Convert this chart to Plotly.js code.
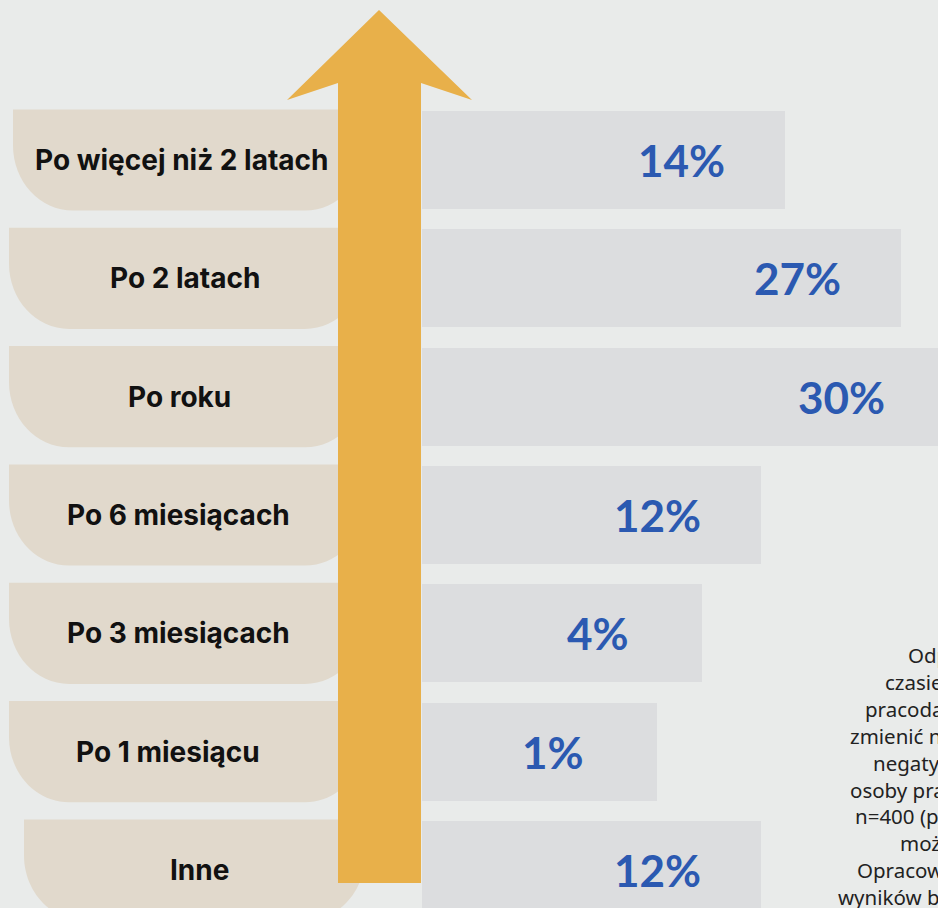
<!DOCTYPE html>
<html>
<head>
<meta charset="utf-8">
<script src="https://cdn.plot.ly/plotly-3.0.1.min.js"></script>
<style>
  html, body { margin: 0; padding: 0; background: #e9ebea; }
  #chart { width: 938px; height: 908px; }
</style>
</head>
<body>
<div id="chart"></div>
<script>
// ---- data (top to bottom) ----
const categories = [
  "Po więcej niż 2 latach",
  "Po 2 latach",
  "Po roku",
  "Po 6 miesiącach",
  "Po 3 miesiącach",
  "Po 1 miesiącu",
  "Inne"
];
const percentValues = [14, 27, 30, 12, 4, 1, 12];
// drawn bar lengths (as designed in the original graphic, arbitrary units)
const barLength = [36.3, 47.9, 52.3, 33.9, 28.0, 23.5, 33.9];
const noteLines = [
  "Odpowiedzi na",
  "czasie zatrudnienia",
  "pracodawcy chciałbyś",
  "zmienić nastawienie, jeśli",
  "negatywnie oceniasz go?",
  "osoby pracujące w Polsce,",
  "n=400 (pytanie zamknięte,",
  "możliwa 1 odp.)",
  "Opracowanie na podstawie",
  "wyników badania ankietowego"
];

// ---- styles / layout constants ----
const W = 938, H = 908;
const BG = "#e9ebea", BAR = "#dcdddf", BEIGE = "#e1d9cc", ORANGE = "#e8b04a", BLUE = "#2b59b1";
const X0PX = 422, PXPERUNIT = 10;            // x axis: 0 at 422px, 10px per unit
const yRange = [6.321, -1.352];               // reversed numeric y
const shapeLeftPx = [13, 9, 9, 9, 9, 9, 24];
const labelCenterPx = [182, 185, 179, 178, 178, 168, 199];
const labelInset = 10.4;
const noteStartPx = [906, 883, 863, 848, 871, 848, 853, 898, 855, 836];
const noteFirstY = 655, noteStep = 26.9;

const px2x = p => (p - X0PX) / PXPERUNIT;
const yIdx = categories.map((_, i) => i);

const bars = {
  type: "bar",
  orientation: "h",
  x: barLength,
  y: yIdx,
  base: 0,
  width: 0.828,
  marker: { color: BAR, line: { width: 0 } },
  hoverinfo: "skip",
  showlegend: false
};

const shapes = [];
// beige label backgrounds with rounded bottom corners
const halfH = 0.4275, rx = 6.0, ry = 0.55, k = 0.5523;
yIdx.forEach(i => {
  const xl = px2x(shapeLeftPx[i]), xr = px2x(365);
  const top = i - halfH, bot = i + halfH;
  const p = [
    `M ${xl},${top}`,
    `L ${xr},${top}`,
    `L ${xr},${bot - ry}`,
    `C ${xr},${bot - ry + k * ry} ${xr - rx + k * rx},${bot} ${xr - rx},${bot}`,
    `L ${xl + rx},${bot}`,
    `C ${xl + rx - k * rx},${bot} ${xl},${bot - ry + k * ry} ${xl},${bot - ry}`,
    "Z"
  ].join(" ");
  shapes.push({ type: "path", xref: "x", yref: "y", path: p, fillcolor: BEIGE, line: { width: 0 }, layer: "below" });
});
// big upward arrow (decoration, paper coords)
const P = (x, y) => `${x / W},${1 - y / H}`;
const arrowPath = [
  "M " + P(379, 10),
  "L " + P(472, 100),
  "L " + P(421, 83),
  "L " + P(421, 883),
  "L " + P(338, 883),
  "L " + P(338, 83),
  "L " + P(287, 100),
  "Z"
].join(" ");
shapes.push({ type: "path", xref: "paper", yref: "paper", path: arrowPath, fillcolor: ORANGE, line: { width: 0 }, layer: "above" });

const annotations = [];
yIdx.forEach(i => {
  annotations.push({
    xref: "paper", yref: "y", x: labelCenterPx[i] / W, y: i,
    text: "<b>" + categories[i] + "</b>", showarrow: false,
    xanchor: "center", yanchor: "middle",
    font: { family: "Inter, 'Noto Sans', sans-serif", size: 28, color: "#111111" }
  });
  annotations.push({
    xref: "x", yref: "y", x: barLength[i] - labelInset, y: i,
    text: "<b>" + percentValues[i] + "%</b>", showarrow: false,
    xanchor: "center", yanchor: "middle",
    font: { family: "Lato, 'Liberation Sans', sans-serif", size: 44, color: BLUE, weight: 900 }
  });
});
noteLines.forEach((line, j) => {
  annotations.push({
    xref: "paper", yref: "paper", x: noteStartPx[j] / W, y: 1 - (noteFirstY + j * noteStep) / H,
    xanchor: "left", yanchor: "middle", showarrow: false,
    text: line,
    font: { family: "'Noto Sans', sans-serif", size: 20.5, color: "#222222" }
  });
});

const layout = {
  width: W, height: H,
  margin: { l: 0, r: 0, t: 0, b: 0, pad: 0 },
  paper_bgcolor: BG, plot_bgcolor: BG,
  xaxis: { range: [px2x(0), px2x(W)], visible: false, fixedrange: true },
  yaxis: { range: yRange, visible: false, fixedrange: true },
  bargap: 0,
  shapes: shapes,
  annotations: annotations,
  showlegend: false
};

Plotly.newPlot("chart", [bars], layout, { displayModeBar: false, staticPlot: true });
</script>
</body>
</html>
